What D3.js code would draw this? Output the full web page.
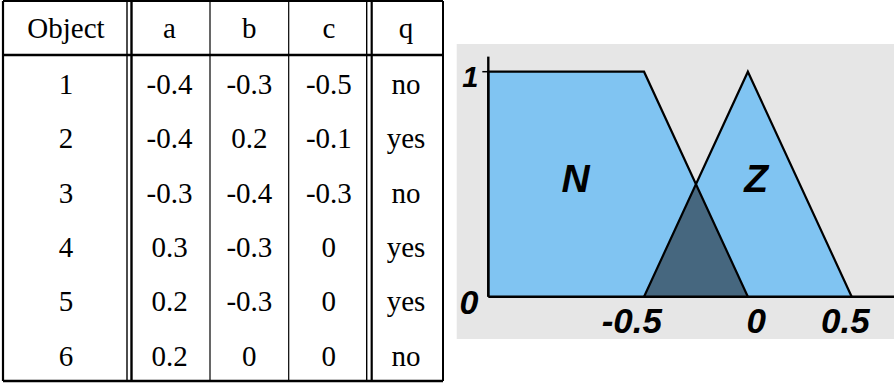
<html>
<head>
<script src="https://cdn.jsdelivr.net/npm/d3@7"></script>
<style>
  body { margin: 0; background: #fff; }
  svg { display: block; }
</style>
</head>
<body>
<svg id="fig"></svg>
<script>
// table data
const columns = ["Object", "a", "b", "c", "q"]
const objects = [1, 2, 3, 4, 5, 6]
const colA = [-0.4, -0.4, -0.3, 0.3, 0.2, 0.2]
const colB = [-0.3, 0.2, -0.4, -0.3, -0.3, 0]
const colC = [-0.5, -0.1, -0.3, 0, 0, 0]
const colQ = ["no", "yes", "no", "yes", "yes", "no"]

// membership functions (x, mu)
const setN = [[-1.25, 0], [-1.25, 1], [-0.5, 1], [0, 0]]
const setZ = [[-0.5, 0], [0, 1], [0.5, 0]]
const overlap = [[-0.5, 0], [-0.25, 0.5], [0, 0]]
const setNames = ["N", "Z"]
const setLabelX = [-0.83, 0.04]
const xTicks = [-0.5, 0, 0.5]
const yTicks = [0, 1]

const W = 894, H = 383
const svg = d3.select("#fig").attr("width", W).attr("height", H)

// ---------- table ----------
const colEdges = [3, 129, 210, 288.7, 369, 443]
const tableTop = 1, headerBottom = 55, tableBottom = 381

const rowY = d3.scaleLinear().domain([0, objects.length]).range([headerBottom, tableBottom])
const fmt = v => typeof v === "number" ? String(v) : v
const rows = objects.map((o, i) => [o, colA[i], colB[i], colC[i], colQ[i]])

const tbl = svg.append("g")
    .style("font-family", "'Liberation Serif', serif")
    .style("font-size", "29px")

// header text
tbl.selectAll("text.head")
    .data(columns)
    .enter().append("text")
        .attr("class", "head")
        .attr("x", (d, i) => (colEdges[i] + colEdges[i + 1]) / 2)
        .attr("y", tableTop + 37)
        .attr("text-anchor", "middle")
        .text(d => d)

// body text
rows.forEach((r, ri) => {
    tbl.selectAll("text.r" + ri)
        .data(r)
        .enter().append("text")
            .attr("x", (d, i) => (colEdges[i] + colEdges[i + 1]) / 2)
            .attr("y", rowY(ri) + 39)
            .attr("text-anchor", "middle")
            .text(fmt)
})

// outer frame + rules
const line = (x1, y1, x2, y2, w) => tbl.append("line")
    .attr("x1", x1).attr("y1", y1).attr("x2", x2).attr("y2", y2)
    .attr("stroke", "#000").attr("stroke-width", w)
line(3, tableTop, 443, tableTop, 2)
line(3, tableBottom, 443, tableBottom, 2.5)
line(3, tableTop, 3, tableBottom, 2.2)
line(443, tableTop, 443, tableBottom, 2)
line(3, headerBottom, 443, headerBottom, 2.6)
// double rules
line(127, tableTop, 127, tableBottom, 1.4)
line(131.5, tableTop, 131.5, tableBottom, 2.4)
line(366.7, tableTop, 366.7, tableBottom, 1.4)
line(371.7, tableTop, 371.7, tableBottom, 2.2)
// single rules
line(210, tableTop, 210, tableBottom, 1.2)
line(288.7, tableTop, 288.7, tableBottom, 1.2)

// ---------- membership chart ----------
const panel = {x: 456.7, y: 44, w: W - 456.7, h: 295}
svg.append("rect")
    .attr("x", panel.x).attr("y", panel.y)
    .attr("width", panel.w).attr("height", panel.h)
    .attr("fill", "#e6e6e6")

const x = d3.scaleLinear().domain([-1.25, 0.5]).range([488.3, 851.7])
const y = d3.scaleLinear().domain([0, 1]).range([296.7, 71.7])

const path = d3.line().x(d => x(d[0])).y(d => y(d[1]))

const g = svg.append("g")

g.append("path").datum(setN).attr("d", path)
    .attr("fill", "#80c4f2")
g.append("path").datum(setZ).attr("d", path)
    .attr("fill", "#80c4f2")
g.append("path")
    .attr("d", path(overlap) + "Z")
    .attr("fill", "#46677f")

// outlines
;[setN, setZ].forEach(s => {
    g.append("path").datum(s).attr("d", path)
        .attr("fill", "none")
        .attr("stroke", "#000")
        .attr("stroke-width", 2.2)
})

// axes
g.append("line")
    .attr("x1", x(-1.25)).attr("y1", y(0))
    .attr("x2", W).attr("y2", y(0))
    .attr("stroke", "#000").attr("stroke-width", 2.6)
g.append("line")
    .attr("x1", x(-1.25)).attr("y1", y(0))
    .attr("x2", x(-1.25)).attr("y2", y(1.067))
    .attr("stroke", "#000").attr("stroke-width", 2.4)
g.append("line")
    .attr("x1", x(-1.25) - 6).attr("y1", y(1))
    .attr("x2", x(-1.25)).attr("y2", y(1))
    .attr("stroke", "#000").attr("stroke-width", 1.5)

const lab = g.append("g")
    .style("font-family", "'Liberation Sans', Arial, sans-serif")
    .style("font-weight", "bold")
    .style("font-style", "italic")

lab.selectAll("text.yt")
    .data(yTicks)
    .enter().append("text")
        .attr("class", "yt")
        .attr("x", x(-1.25) - 10)
        .attr("y", d => y(d))
        .attr("dy", "0.52em")
        .attr("text-anchor", "end")
        .style("font-size", d => d === 0 ? "34px" : "29px")
        .text(d => d)

lab.selectAll("text.xt")
    .data(xTicks)
    .enter().append("text")
        .attr("class", "xt")
        .attr("x", d => x(d) + 18)
        .attr("y", y(0) + 36)
        .attr("text-anchor", "end")
        .style("font-size", "35px")
        .text(d => d)

lab.selectAll("text.set")
    .data(setNames)
    .enter().append("text")
        .attr("class", "set")
        .attr("x", (d, i) => x(setLabelX[i]))
        .attr("y", y(0.5))
        .attr("dy", "0.2em")
        .attr("text-anchor", "middle")
        .style("font-size", "39px")
        .text(d => d)
</script>
</body>
</html>
